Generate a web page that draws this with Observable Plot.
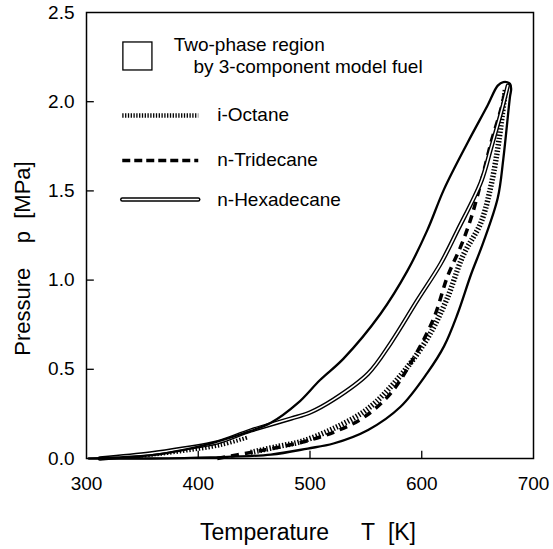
<!DOCTYPE html>
<html><head><meta charset="utf-8">
<script src="https://cdn.jsdelivr.net/npm/d3@7"></script>
<script src="https://cdn.jsdelivr.net/npm/@observablehq/plot@0.6"></script>
<style>body{margin:0;background:#fff;font-family:"Liberation Sans",Arial,sans-serif}</style>
</head><body><div id="chart"></div>
<script>
// Two-phase envelope of the 3-component model fuel (closed loop), T [K], p [MPa]
const envelopeT = [302,357,375,411,440,465,489,509,530,563,587,605,620,641,659,668,673,679,680,679,673,668,655,644,632,620,605,581,552,521,498,465,411,357,302];
const envelopeP = [0,0.017,0.034,0.084,0.14,0.20,0.31,0.44,0.56,0.81,1.05,1.28,1.51,1.77,1.98,2.09,2.11,2.10,2.07,2.03,1.68,1.46,1.21,1.03,0.81,0.63,0.48,0.29,0.16,0.084,0.056,0.022,0.006,0,0];
// n-Hexadecane
const hexadecaneT = [312,357,387,417,447,483,500,521,552,572,596,617,632,653,662,671,677];
const hexadecaneP = [0,0.028,0.056,0.09,0.157,0.224,0.258,0.33,0.476,0.645,0.886,1.093,1.278,1.55,1.74,1.94,2.09];
// n-Tridecane
const tridecaneT = [417,447,471,498,525,548,572,593,611,623,635,644,653,662,671,675];
const tridecaneP = [0,0.034,0.062,0.10,0.157,0.23,0.364,0.566,0.79,1.02,1.19,1.345,1.547,1.771,1.962,2.074];
// i-Octane (band on the high-temperature side and low-temperature part)
const iOctaneT = [447,471,492,521,552,581,605,622,637,653,662,668,672,675];
const iOctaneP = [0.034,0.067,0.095,0.168,0.28,0.465,0.673,0.886,1.138,1.323,1.53,1.738,1.923,2.074];
const iOctaneLowT = [335,360,390,420,445];
const iOctaneLowP = [0.008,0.022,0.045,0.075,0.12];

const xTicks = [300,400,500,600,700];
const yTicks = [0,0.5,1.0,1.5,2.0,2.5];
const xTickMarks = [400,500,600];
const yTickMarks = [0.5,1.0,1.5,2.0];

const legendLabels = ["Two-phase region","by 3-component model fuel","i-Octane","n-Tridecane","n-Hexadecane"];
const legendTextT = [378,395.7,417,417,417];
const legendTextP = [2.32,2.197,1.928,1.676,1.452];
const legendSwatchT = [332,400];
const legendSwatchP = [1.923,1.670,1.452];

const pts = (T,P) => T.map((t,i) => ({T:t, p:P[i]}));
const env = pts(envelopeT, envelopeP);
const hex = pts(hexadecaneT, hexadecaneP);
const tri = pts(tridecaneT, tridecaneP);
const oct = pts(iOctaneT, iOctaneP);
const octLow = pts(iOctaneLowT, iOctaneLowP);
const legendText = legendLabels.map((s,i)=>({s, T:legendTextT[i], p:legendTextP[i]}));
const sw = (k) => legendSwatchT.map(t=>({T:t, p:legendSwatchP[k]}));

const hatch = {x:"T", y:"p", stroke:"black", strokeWidth:5.5, strokeDasharray:"1.4,1.8", strokeLinecap:"butt", curve:"catmull-rom"};
const dash = {x:"T", y:"p", stroke:"black", strokeWidth:3.5, strokeDasharray:"8,6", strokeLinecap:"butt", curve:"catmull-rom"};

const chart = Plot.plot({
  width:553, height:549,
  marginLeft:86, marginRight:20, marginTop:12, marginBottom:91,
  style:{fontFamily:"Liberation Sans, Arial, sans-serif", fontSize:"19px", color:"black", background:"white"},
  x:{domain:[300,700]},
  y:{domain:[0,2.5]},
  marks:[
    Plot.axisX(xTicks, {tickSize:0, tickPadding:18, label:null, fontSize:19, tickFormat:d=>String(d)}),
    Plot.axisY(yTicks, {tickSize:0, tickPadding:12, label:null, fontSize:19, tickFormat:d=>d.toFixed(1)}),
    Plot.ruleX(xTickMarks, {y1:0, y2:0.04, stroke:"black", strokeWidth:1.3}),
    Plot.ruleY(yTickMarks, {x1:300, x2:307, stroke:"black", strokeWidth:1.3}),
    Plot.line(oct, hatch),
    Plot.line(octLow, {...hatch, strokeWidth:4}),
    Plot.line(tri, dash),
    Plot.line(hex, {x:"T", y:"p", stroke:"black", strokeWidth:4.4, curve:"catmull-rom"}),
    Plot.line(hex, {x:"T", y:"p", stroke:"white", strokeWidth:1.6, curve:"catmull-rom"}),
    Plot.line(env, {x:"T", y:"p", stroke:"black", strokeWidth:2.3, curve:"catmull-rom"}),
    // legend
    Plot.rect([{x1:333,x2:359,y1:2.175,y2:2.332}], {x1:"x1",x2:"x2",y1:"y1",y2:"y2", fill:"none", stroke:"black", strokeWidth:1.3}),
    Plot.line(sw(0), {...hatch, strokeWidth:4.5, strokeDasharray:"1.3,1.5", curve:"linear"}),
    Plot.line(sw(1), {...dash, strokeDasharray:"8,4", curve:"linear"}),
    Plot.line(sw(2), {x:"T", y:"p", stroke:"black", strokeWidth:4.4}),
    Plot.line(sw(2), {x:"T", y:"p", stroke:"white", strokeWidth:1.6}),
    Plot.text(legendText, {x:"T", y:"p", text:"s", textAnchor:"start", fontSize:19, fill:"black"}),
    // axis titles
    Plot.text(["Temperature\u00a0\u00a0\u00a0\u00a0\u00a0T\u00a0\u00a0[K]"], {frameAnchor:"bottom", dy:74, dx:-2, textAnchor:"middle", lineAnchor:"middle", fontSize:23, fill:"black"}),
    Plot.text(["Pressure\u00a0\u00a0\u00a0\u00a0p\u00a0\u00a0[MPa]"], {frameAnchor:"left", dx:-64, dy:23, rotate:-90, textAnchor:"middle", lineAnchor:"middle", fontSize:22, fill:"black"}),
    Plot.frame({stroke:"black", strokeWidth:1.5})
  ]
});
document.getElementById("chart").appendChild(chart);
</script></body></html>
